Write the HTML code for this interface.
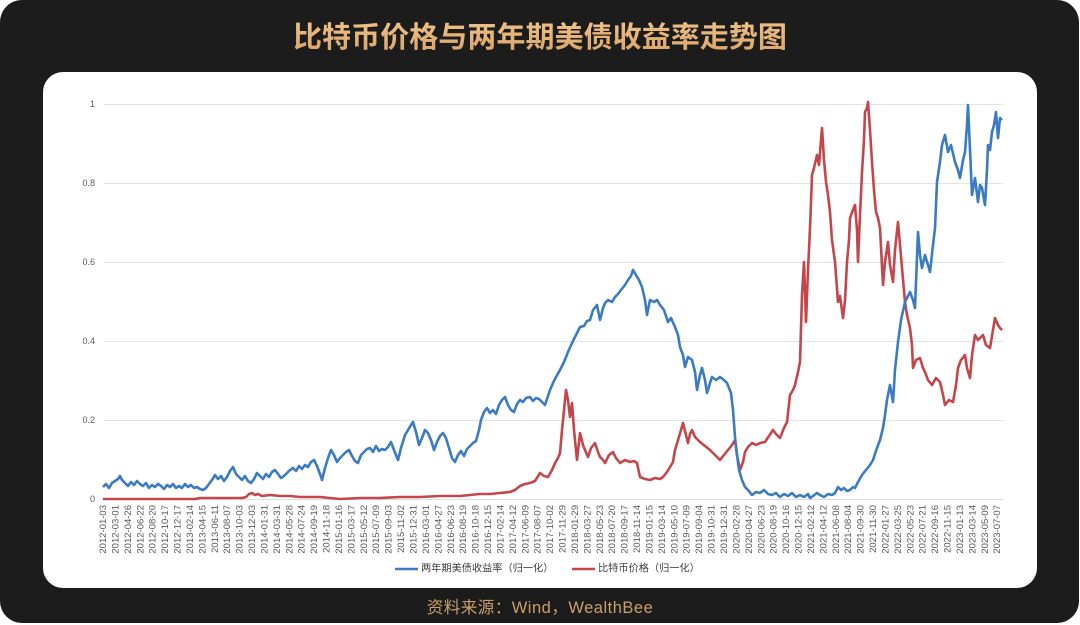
<!DOCTYPE html>
<html>
<head>
<meta charset="utf-8">
<style>
  html,body{margin:0;padding:0;}
  body{width:1080px;height:625px;background:#ffffff;position:relative;overflow:hidden;}
  .outer{position:absolute;left:0;top:0;width:1079px;height:623px;background:#1c1c1c;border-radius:22px;}
  .panel{position:absolute;left:43px;top:72px;width:994px;height:516px;background:#ffffff;border-radius:20px;}
  .footer{position:absolute;left:0;top:596px;width:1080px;text-align:center;font-family:"Liberation Sans","Noto Sans CJK SC",sans-serif;font-size:16.5px;line-height:24px;color:#c9a06a;letter-spacing:0.5px;}
  svg{position:absolute;left:0;top:0;}
</style>
</head>
<body>
<div class="outer"></div>
<div class="panel"></div>
<div class="footer">资料来源：Wind，WealthBee</div>
<svg width="1080" height="625" viewBox="0 0 1080 625" xmlns="http://www.w3.org/2000/svg">
  <defs>
    <linearGradient id="tg" x1="0" y1="0" x2="0" y2="1">
      <stop offset="0" stop-color="#f3c890"/>
      <stop offset="1" stop-color="#d9a266"/>
    </linearGradient>
  </defs>
  <text x="293" y="47" textLength="494" lengthAdjust="spacingAndGlyphs" font-family="Noto Sans CJK SC, WenQuanYi Zen Hei, sans-serif" font-weight="bold" font-size="29" fill="url(#tg)">比特币价格与两年期美债收益率走势图</text>
  <g stroke="#e3e3e3" stroke-width="1">
    <line x1="104" y1="104.5" x2="1003" y2="104.5"/>
    <line x1="104" y1="183.5" x2="1003" y2="183.5"/>
    <line x1="104" y1="262.5" x2="1003" y2="262.5"/>
    <line x1="104" y1="341.5" x2="1003" y2="341.5"/>
    <line x1="104" y1="420.5" x2="1003" y2="420.5"/>
  </g>
  <line x1="104" y1="499.5" x2="1003" y2="499.5" stroke="#d6dce4" stroke-width="1"/>
  <g font-family="Liberation Sans, sans-serif" font-size="9" fill="#595959" text-anchor="end" dominant-baseline="central">
    <text x="95" y="104">1</text>
    <text x="95" y="183">0.8</text>
    <text x="95" y="262">0.6</text>
    <text x="95" y="341">0.4</text>
    <text x="95" y="420">0.2</text>
    <text x="95" y="499">0</text>
  </g>
  <g font-family="Liberation Sans, sans-serif" font-size="9.5" fill="#595959" text-anchor="end" dominant-baseline="central">
    <text transform="translate(103.5,505) rotate(-90)">2012-01-03</text>
    <text transform="translate(115.9,505) rotate(-90)">2012-03-01</text>
    <text transform="translate(128.3,505) rotate(-90)">2012-04-26</text>
    <text transform="translate(140.8,505) rotate(-90)">2012-06-22</text>
    <text transform="translate(153.2,505) rotate(-90)">2012-08-20</text>
    <text transform="translate(165.6,505) rotate(-90)">2012-10-17</text>
    <text transform="translate(178.0,505) rotate(-90)">2012-12-17</text>
    <text transform="translate(190.4,505) rotate(-90)">2013-02-14</text>
    <text transform="translate(202.9,505) rotate(-90)">2013-04-15</text>
    <text transform="translate(215.3,505) rotate(-90)">2013-06-11</text>
    <text transform="translate(227.7,505) rotate(-90)">2013-08-07</text>
    <text transform="translate(240.1,505) rotate(-90)">2013-10-03</text>
    <text transform="translate(252.5,505) rotate(-90)">2013-12-03</text>
    <text transform="translate(265.0,505) rotate(-90)">2014-01-31</text>
    <text transform="translate(277.4,505) rotate(-90)">2014-03-31</text>
    <text transform="translate(289.8,505) rotate(-90)">2014-05-28</text>
    <text transform="translate(302.2,505) rotate(-90)">2014-07-24</text>
    <text transform="translate(314.6,505) rotate(-90)">2014-09-19</text>
    <text transform="translate(327.1,505) rotate(-90)">2014-11-18</text>
    <text transform="translate(339.5,505) rotate(-90)">2015-01-16</text>
    <text transform="translate(351.9,505) rotate(-90)">2015-03-17</text>
    <text transform="translate(364.3,505) rotate(-90)">2015-05-12</text>
    <text transform="translate(376.7,505) rotate(-90)">2015-07-09</text>
    <text transform="translate(389.2,505) rotate(-90)">2015-09-03</text>
    <text transform="translate(401.6,505) rotate(-90)">2015-11-02</text>
    <text transform="translate(414.0,505) rotate(-90)">2015-12-31</text>
    <text transform="translate(426.4,505) rotate(-90)">2016-03-01</text>
    <text transform="translate(438.8,505) rotate(-90)">2016-04-27</text>
    <text transform="translate(451.3,505) rotate(-90)">2016-06-23</text>
    <text transform="translate(463.7,505) rotate(-90)">2016-08-19</text>
    <text transform="translate(476.1,505) rotate(-90)">2016-10-18</text>
    <text transform="translate(488.5,505) rotate(-90)">2016-12-15</text>
    <text transform="translate(500.9,505) rotate(-90)">2017-02-14</text>
    <text transform="translate(513.4,505) rotate(-90)">2017-04-12</text>
    <text transform="translate(525.8,505) rotate(-90)">2017-06-09</text>
    <text transform="translate(538.2,505) rotate(-90)">2017-08-07</text>
    <text transform="translate(550.6,505) rotate(-90)">2017-10-02</text>
    <text transform="translate(563.0,505) rotate(-90)">2017-11-29</text>
    <text transform="translate(575.5,505) rotate(-90)">2018-01-29</text>
    <text transform="translate(587.9,505) rotate(-90)">2018-03-27</text>
    <text transform="translate(600.3,505) rotate(-90)">2018-05-23</text>
    <text transform="translate(612.7,505) rotate(-90)">2018-07-20</text>
    <text transform="translate(625.1,505) rotate(-90)">2018-09-17</text>
    <text transform="translate(637.6,505) rotate(-90)">2018-11-14</text>
    <text transform="translate(650.0,505) rotate(-90)">2019-01-15</text>
    <text transform="translate(662.4,505) rotate(-90)">2019-03-14</text>
    <text transform="translate(674.8,505) rotate(-90)">2019-05-10</text>
    <text transform="translate(687.2,505) rotate(-90)">2019-07-09</text>
    <text transform="translate(699.7,505) rotate(-90)">2019-09-04</text>
    <text transform="translate(712.1,505) rotate(-90)">2019-10-31</text>
    <text transform="translate(724.5,505) rotate(-90)">2019-12-31</text>
    <text transform="translate(736.9,505) rotate(-90)">2020-02-28</text>
    <text transform="translate(749.3,505) rotate(-90)">2020-04-27</text>
    <text transform="translate(761.8,505) rotate(-90)">2020-06-23</text>
    <text transform="translate(774.2,505) rotate(-90)">2020-08-19</text>
    <text transform="translate(786.6,505) rotate(-90)">2020-10-16</text>
    <text transform="translate(799.0,505) rotate(-90)">2020-12-15</text>
    <text transform="translate(811.4,505) rotate(-90)">2021-02-12</text>
    <text transform="translate(823.9,505) rotate(-90)">2021-04-12</text>
    <text transform="translate(836.3,505) rotate(-90)">2021-06-08</text>
    <text transform="translate(848.7,505) rotate(-90)">2021-08-04</text>
    <text transform="translate(861.1,505) rotate(-90)">2021-09-30</text>
    <text transform="translate(873.5,505) rotate(-90)">2021-11-30</text>
    <text transform="translate(886.0,505) rotate(-90)">2022-01-27</text>
    <text transform="translate(898.4,505) rotate(-90)">2022-03-25</text>
    <text transform="translate(910.8,505) rotate(-90)">2022-05-23</text>
    <text transform="translate(923.2,505) rotate(-90)">2022-07-21</text>
    <text transform="translate(935.6,505) rotate(-90)">2022-09-16</text>
    <text transform="translate(948.1,505) rotate(-90)">2022-11-15</text>
    <text transform="translate(960.5,505) rotate(-90)">2023-01-13</text>
    <text transform="translate(972.9,505) rotate(-90)">2023-03-14</text>
    <text transform="translate(985.3,505) rotate(-90)">2023-05-09</text>
    <text transform="translate(997.7,505) rotate(-90)">2023-07-07</text>
  </g>
  <!-- Bitcoin (red) -->
  <polyline fill="none" stroke="#c4464a" stroke-width="2.6" stroke-linejoin="round" points="103,499 150,499 195,499 200,498 242,498 246,497 249,494 252,493 255,495 258,494 262,496 270,495 280,496 290,496 300,497 320,497 340,499 360,498 380,498 400,497 420,497 440,496 460,496 470,495 480,494 490,494 500,493 510,492 515,490 520,486 525,484 530,483 535,481 540,473 544,476 548,477 552,470 555,463 558,458 560,453 562,430 564,410 566,390 568,400 570,417 572,403 574,430 577,460 580,433 583,445 585,450 588,457 591,448 595,443 598,452 600,457 603,460 605,463 609,455 613,452 616,458 620,463 625,460 630,462 634,461 637,463 640,477 645,479 650,480 655,478 660,479 663,477 667,472 670,467 673,462 675,450 678,440 681,430 683,423 686,435 688,443 690,434 692,430 695,437 700,442 705,446 710,450 715,455 720,460 724,455 728,450 732,445 735,440 737,455 740,470 743,462 745,452 748,447 752,443 756,445 760,443 765,442 769,436 773,430 776,434 780,438 784,428 787,422 790,395 793,390 795,385 798,372 800,362 802,295 804,262 806,322 808,270 810,228 812,175 814,168 817,155 819,165 822,128 824,160 826,182 828,195 830,212 832,240 835,262 838,302 840,296 843,318 845,300 847,262 849,240 850,218 853,210 855,205 857,230 858,262 860,215 862,172 864,140 865,112 867,108 868,102 870,130 872,162 874,190 876,212 878,218 880,228 883,285 885,262 888,242 890,265 893,282 895,250 898,222 900,245 902,268 905,302 907,315 910,328 912,345 913,368 916,360 920,358 923,368 925,372 928,380 932,385 936,378 940,382 943,395 945,405 949,400 953,402 956,385 958,368 961,360 965,355 967,368 970,378 972,355 975,335 978,340 983,335 986,345 990,348 993,330 995,318 998,325 1000,328 1002,330"/>
  <!-- 2Y Treasury (blue) -->
  <polyline fill="none" stroke="#3a7bc4" stroke-width="2.6" stroke-linejoin="round" points="103,487 106,484 109,488 112,483 115,481 118,479 120,476 122,480 125,483 128,486 131,482 134,485 137,481 140,484 143,486 146,483 149,488 152,485 155,487 158,484 161,486 164,489 167,485 170,487 173,484 176,488 179,486 182,488 185,484 188,487 191,485 194,488 197,487 200,489 203,490 206,488 209,484 212,480 215,475 218,479 221,476 224,481 227,477 230,471 233,467 236,474 239,477 242,480 245,476 248,481 251,483 254,479 257,473 260,476 263,479 266,474 269,477 272,472 275,470 278,474 281,478 284,476 287,473 290,470 293,468 296,471 299,466 302,469 305,465 308,467 311,462 314,460 317,466 320,474 322,480 325,468 328,458 331,450 334,455 337,462 340,458 343,455 346,452 349,450 352,456 355,461 358,463 361,455 364,452 367,449 370,448 373,452 376,446 379,451 382,449 385,450 388,447 391,442 394,450 398,460 401,448 405,435 408,430 411,425 413,422 416,432 419,445 422,438 425,430 428,433 431,440 434,450 437,442 440,436 443,433 446,438 449,448 452,458 455,462 458,455 461,451 464,456 467,449 470,446 473,443 476,441 479,430 481,420 484,412 487,408 490,413 493,410 496,414 499,405 502,400 505,397 508,405 511,410 514,412 517,404 520,400 523,402 526,398 530,397 533,401 536,398 539,399 542,402 545,405 548,396 550,390 553,383 556,377 560,370 564,362 568,352 572,343 576,335 580,327 584,326 587,321 590,320 593,310 597,305 600,320 603,308 605,303 608,300 612,302 615,297 618,294 621,290 625,285 628,280 631,276 633,270 636,275 639,280 642,287 645,300 647,315 650,300 654,302 657,300 660,305 664,310 668,322 671,318 675,327 678,335 680,347 683,355 685,367 688,357 692,360 695,372 697,390 700,375 702,368 705,380 707,393 710,383 712,377 716,380 720,377 724,380 727,383 731,393 733,410 735,437 737,455 739,470 742,480 745,487 748,490 752,495 756,492 760,493 764,490 768,494 772,495 776,493 780,497 784,494 788,496 792,493 796,497 800,495 804,497 808,494 810,498 813,496 817,493 820,495 824,497 828,494 832,495 835,493 838,487 841,490 844,488 847,491 850,490 853,487 855,488 858,482 862,475 866,470 870,465 873,460 877,448 880,440 883,428 885,415 887,400 890,385 893,402 895,370 898,342 901,320 905,302 908,296 910,292 913,300 915,308 918,232 920,255 922,268 925,255 928,265 930,272 933,245 935,228 937,182 940,162 942,145 945,135 948,152 951,145 955,162 958,170 960,178 963,160 965,152 967,125 968,105 970,150 972,195 975,178 978,202 980,185 982,188 985,205 987,170 988,145 990,150 992,132 994,125 996,112 998,138 1000,118 1002,120"/>
  <!-- Legend -->
  <line x1="395" y1="569" x2="418" y2="569" stroke="#3a7bc4" stroke-width="2.4"/>
  <line x1="572" y1="569" x2="595" y2="569" stroke="#c4464a" stroke-width="2.4"/>
  <g font-family="Liberation Sans, Noto Sans CJK SC, sans-serif" font-size="10.2" fill="#404040" dominant-baseline="central">
    <text x="421" y="569">两年期美债收益率（归一化）</text>
    <text x="598" y="569">比特币价格（归一化）</text>
  </g>
</svg>
</body>
</html>
